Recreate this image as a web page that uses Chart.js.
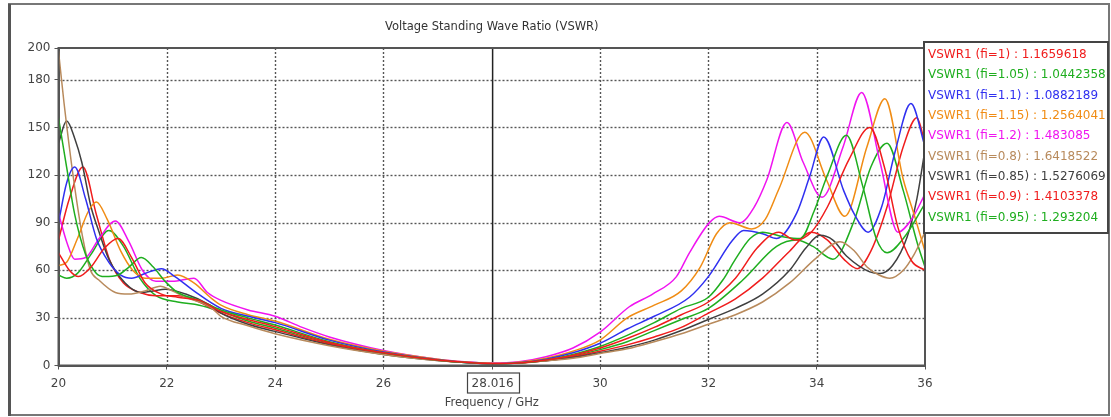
<!DOCTYPE html>
<html>
<head>
<meta charset="utf-8">
<title>VSWR</title>
<script src="https://cdn.jsdelivr.net/npm/chart.js@4.4.0/dist/chart.umd.min.js"></script>
<style>
  html, body { margin: 0; padding: 0; background: #fff; }
  #wrap { width: 1111px; height: 417px; }
</style>
</head>
<body>
<div id="wrap"><canvas id="grafico" width="1111" height="417"></canvas></div>
<script>
const titulo = 'Voltage Standing Wave Ratio (VSWR)';
const xTitulo = 'Frequency / GHz';
const xTicks = [20, 22, 24, 26, 28.016, 30, 32, 34, 36];
const yTicks = [0, 30, 60, 90, 120, 150, 180, 200];
const marcador = 28.016;

const nomes = ['VSWR1 (fi=1)', 'VSWR1 (fi=1.05)', 'VSWR1 (fi=1.1)', 'VSWR1 (fi=1.15)', 'VSWR1 (fi=1.2)',
  'VSWR1 (fi=0.8)', 'VSWR1 (fi=0.85)', 'VSWR1 (fi=0.9)', 'VSWR1 (fi=0.95)'];
const valoresMarcador = ['1.1659618', '1.0442358', '1.0882189', '1.2564041', '1.483085',
  '1.6418522', '1.5276069', '1.4103378', '1.293204'];
const cores = ['#f01c1c', '#1fae1f', '#3030f0', '#f08c14', '#f014f0', '#b88a5c', '#404040', '#f01c1c', '#1fae1f'];

// pares [GHz, VSWR]
const fi100 = [[20, 71], [20.2, 60], [20.37, 56], [20.6, 62], [20.85, 74], [21.1, 80], [21.35, 68], [21.6, 52],
  [21.9, 45], [22.2, 43], [22.6, 41], [23, 34], [23.5, 29], [24, 24.5], [25, 14.5], [26, 8], [27, 3.5],
  [27.5, 2], [28.016, 1.1659618], [28.5, 1.6], [29, 3.5], [29.5, 6.5], [30, 11], [30.5, 17], [31, 24],
  [31.5, 32], [32, 40], [32.5, 55], [32.9, 74], [33.3, 84], [33.6, 79], [33.9, 84], [34.2, 100], [34.6, 130],
  [34.98, 150], [35.25, 125], [35.5, 87], [35.75, 66], [36, 60]];
const fi105 = [[20, 156], [20.15, 125], [20.3, 95], [20.5, 70], [20.7, 58], [20.85, 56], [21.1, 57], [21.3, 62],
  [21.53, 68], [21.75, 62], [21.97, 53], [22.2, 46], [22.6, 41], [23, 35], [23.5, 30], [24, 25.5], [25, 15],
  [26, 8], [27, 3.5], [27.5, 1.9], [28.016, 1.0442358], [28.5, 1.6], [29, 3.5], [29.5, 7], [30, 12], [30.5, 19],
  [31, 27], [31.5, 36], [32, 43], [32.27, 54], [32.5, 67], [32.77, 80], [33, 84], [33.4, 81], [33.7, 80],
  [33.95, 97], [34.2, 120], [34.55, 145], [34.85, 113], [35.1, 80], [35.3, 71], [35.6, 80], [36, 102]];
const fi110 = [[20, 90], [20.15, 115], [20.3, 125], [20.5, 105], [20.7, 80], [20.93, 65], [21.15, 57], [21.35, 55],
  [21.6, 58], [21.9, 61], [22.15, 56], [22.5, 47], [23, 36], [23.5, 31], [24, 27], [25, 16], [26, 8.5], [27, 3.6],
  [27.5, 1.9], [28.016, 1.0882189], [28.5, 1.7], [29, 4], [29.5, 8], [30, 14], [30.5, 23], [31, 31], [31.65, 43],
  [32, 56], [32.45, 79], [32.65, 85], [33, 83], [33.26, 80], [33.63, 96], [33.87, 119], [34.13, 144], [34.5, 110],
  [34.7, 95], [34.95, 84], [35.2, 100], [35.45, 135], [35.74, 165], [36, 138]];
const fi115 = [[20, 63], [20.15, 65], [20.35, 80], [20.55, 97], [20.7, 103], [20.9, 92], [21.15, 72], [21.37, 60],
  [21.6, 55], [21.9, 55], [22.2, 57], [22.5, 52], [22.8, 43], [23, 38], [23.5, 32], [24, 28], [25, 16.5], [26, 9],
  [27, 4], [27.5, 2.2], [28.016, 1.2564041], [28.5, 2], [29, 4.5], [29.5, 9], [30, 16], [30.5, 30], [31, 38],
  [31.5, 47], [31.85, 62], [32.15, 83], [32.4, 90], [32.8, 86], [33.05, 92], [33.3, 111], [33.78, 147],
  [34.18, 117], [34.52, 94], [34.93, 138], [35.26, 168], [35.6, 117], [35.8, 95], [36, 72]];
const fi120 = [[20, 96], [20.15, 78], [20.3, 67], [20.5, 68], [20.75, 80], [21.05, 91], [21.3, 78], [21.55, 60],
  [21.8, 53], [22.1, 53], [22.5, 55], [22.75, 46], [23, 41], [23.5, 35], [24, 31], [24.5, 24], [25, 18], [26, 9.5],
  [27, 4], [27.5, 2.4], [28.016, 1.483085], [28.5, 2.3], [29, 5.5], [29.5, 11], [30, 21], [30.54, 37], [30.97, 45],
  [31.41, 56], [31.65, 71], [32.02, 90], [32.2, 94], [32.58, 90], [32.85, 100], [33.08, 117], [33.45, 153],
  [33.75, 128], [34.1, 106], [34.49, 138], [34.83, 172], [35.17, 128], [35.5, 84], [35.75, 92], [36, 108]];
const fi080 = [[20, 198], [20.1, 166], [20.28, 117], [20.45, 80], [20.59, 60], [20.74, 54], [21.05, 46], [21.3, 45],
  [21.6, 47], [21.88, 50], [22.1, 47], [22.35, 43], [22.8, 37], [23, 31], [23.5, 25], [24, 20], [25, 12.5], [26, 7],
  [27, 3.2], [27.5, 2], [28.016, 1.6418522], [28.5, 1.8], [29, 3], [29.5, 4.5], [30, 7.5], [30.5, 10.5], [31, 15],
  [31.5, 20], [32, 26], [32.5, 32], [33, 40], [33.5, 52], [34, 68], [34.43, 78], [34.7, 72], [34.93, 62],
  [35.15, 57], [35.35, 55], [35.6, 60], [35.8, 70], [36, 84]];
const fi085 = [[20, 140], [20.15, 154], [20.3, 143], [20.43, 128], [20.6, 100], [20.74, 85], [20.93, 67], [21.23, 52],
  [21.53, 46], [21.75, 47], [21.97, 48], [22.35, 45], [22.8, 38], [23, 33], [23.5, 26], [24, 21.5], [25, 13],
  [26, 7], [27, 3.2], [27.5, 2], [28.016, 1.5276069], [28.5, 1.7], [29, 3], [29.5, 5], [30, 8], [30.5, 11.5],
  [31, 16], [31.5, 22], [32, 29], [32.5, 36], [33, 45], [33.5, 60], [33.8, 74], [34.06, 82], [34.3, 79],
  [34.55, 69], [34.98, 59], [35.17, 58], [35.4, 63], [35.67, 81], [35.85, 105], [36, 136]];
const fi090 = [[20, 79], [20.2, 105], [20.45, 125], [20.7, 95], [20.95, 66], [21.2, 52], [21.5, 46], [21.8, 44],
  [22.2, 44], [22.6, 40], [23, 33], [23.5, 27], [24, 22.5], [25, 13.5], [26, 7.5], [27, 3.3], [27.5, 2],
  [28.016, 1.4103378], [28.5, 1.6], [29, 3], [29.5, 5.5], [30, 9], [30.5, 13], [31, 18], [31.5, 24], [32, 33],
  [32.5, 42], [33, 55], [33.5, 72], [33.9, 84], [34.2, 79], [34.5, 67], [34.75, 61], [35, 72], [35.3, 100],
  [35.6, 138], [35.85, 156], [36, 140]];
const fi095 = [[20, 57], [20.15, 55], [20.35, 58], [20.6, 70], [20.93, 85], [21.2, 75], [21.5, 55], [21.8, 44],
  [22.2, 40], [22.6, 38], [23, 34], [23.5, 28], [24, 23.5], [25, 14], [26, 7.5], [27, 3.3], [27.5, 1.9],
  [28.016, 1.293204], [28.5, 1.6], [29, 3.2], [29.5, 6], [30, 10], [30.5, 15], [31, 22], [31.5, 29], [32, 36],
  [32.64, 54], [33.26, 75], [33.63, 79], [33.93, 75], [34.3, 67], [34.7, 92], [35, 125], [35.3, 140], [35.6, 110],
  [35.85, 78], [36, 62]];

const series = [fi100, fi105, fi110, fi115, fi120, fi080, fi085, fi090, fi095];

const fonte = 'DejaVu Sans';

// moldura, grade pontilhada, cursor, titulo e legenda
const moldura = {
  id: 'moldura',
  beforeDraw(chart) {
    const ctx = chart.ctx;
    ctx.save();
    ctx.fillStyle = '#fff';
    ctx.fillRect(0, 0, chart.width, chart.height);
    ctx.strokeStyle = '#777';
    ctx.lineWidth = 2;
    ctx.strokeRect(9, 4, 1100, 411);
    ctx.fillStyle = '#555';
    ctx.fillRect(8, 4, 3, 412);
    ctx.restore();
  },
  beforeDatasetsDraw(chart) {
    const { ctx, chartArea: a, scales: { x, y } } = chart;
    ctx.save();
    ctx.strokeStyle = '#555';
    ctx.lineWidth = 1.4;
    ctx.setLineDash([2, 2]);
    xTicks.filter(v => v > 20 && v < 36 && v !== marcador).forEach(v => {
      const px = Math.round(x.getPixelForValue(v)) + 0.5;
      ctx.beginPath(); ctx.moveTo(px, a.top); ctx.lineTo(px, a.bottom); ctx.stroke();
    });
    yTicks.filter(v => v > 0 && v < 200).forEach(v => {
      const py = Math.round(y.getPixelForValue(v)) + 0.5;
      ctx.beginPath(); ctx.moveTo(a.left, py); ctx.lineTo(a.right, py); ctx.stroke();
    });
    ctx.setLineDash([]);
    ctx.strokeStyle = '#222';
    ctx.lineWidth = 1.5;
    const mx = x.getPixelForValue(marcador);
    ctx.beginPath(); ctx.moveTo(mx, a.top); ctx.lineTo(mx, a.bottom); ctx.stroke();
    ctx.restore();
  },
  afterDraw(chart) {
    const { ctx, chartArea: a, scales: { x } } = chart;
    ctx.save();
    // borda do grafico
    ctx.strokeStyle = '#555';
    ctx.lineWidth = 2;
    ctx.strokeRect(a.left, a.top, a.right - a.left, a.bottom - a.top);

    // titulo
    ctx.fillStyle = '#333';
    ctx.font = '11.5px "' + fonte + '"';
    ctx.textAlign = 'center';
    ctx.textBaseline = 'middle';
    ctx.fillText(titulo, (a.left + a.right) / 2, 27);

    // caixa do valor do cursor
    ctx.font = '12px "' + fonte + '"';
    const mx = x.getPixelForValue(marcador);
    const w = ctx.measureText('28.016').width + 10;
    ctx.strokeStyle = '#444';
    ctx.lineWidth = 1.2;
    ctx.strokeRect(Math.round(mx - w / 2) + 0.5, a.bottom + 7.5, Math.round(w), 20);

    // legenda
    const lx = a.right - 1, ly = 42, lw = 184, lh = 191;
    ctx.fillStyle = '#fff';
    ctx.fillRect(lx, ly, lw, lh);
    ctx.strokeStyle = '#444';
    ctx.lineWidth = 2;
    ctx.strokeRect(lx, ly, lw, lh);
    ctx.textAlign = 'left';
    ctx.textBaseline = 'middle';
    nomes.forEach((n, i) => {
      ctx.fillStyle = cores[i];
      ctx.fillText(n + ' : ' + valoresMarcador[i], lx + 4, 55 + i * 20.3);
    });
    ctx.restore();
  }
};

const ctx = document.getElementById('grafico').getContext('2d');
new Chart(ctx, {
  type: 'line',
  data: {
    datasets: series.map((pts, i) => ({
      label: nomes[i],
      data: pts.map(([f, v]) => ({ x: f, y: v })),
      borderColor: cores[i],
      borderWidth: 1.5,
      pointRadius: 0,
      fill: false,
      cubicInterpolationMode: 'monotone'
    }))
  },
  options: {
    responsive: false,
    animation: false,
    devicePixelRatio: 1,
    layout: { padding: { top: 48, right: 186, left: 0, bottom: 0 } },
    plugins: {
      legend: { display: false },
      tooltip: { enabled: false }
    },
    scales: {
      x: {
        type: 'linear',
        min: 20,
        max: 36,
        afterBuildTicks: s => { s.ticks = xTicks.map(v => ({ value: v })); },
        afterFit: s => { s.height = 51.5; },
        ticks: {
          autoSkip: false,
          maxRotation: 0,
          padding: 7,
          color: '#444',
          font: { family: fonte, size: 12 },
          callback: v => (v === marcador ? '28.016' : String(v))
        },
        grid: { drawOnChartArea: false, tickLength: 4, color: '#555' },
        border: { color: '#555', width: 2 },
        title: {
          display: true,
          text: xTitulo,
          color: '#444',
          font: { family: fonte, size: 11.5 },
          padding: { top: 0, bottom: 7 }
        }
      },
      y: {
        min: 0,
        max: 200,
        afterBuildTicks: s => { s.ticks = yTicks.map(v => ({ value: v })); },
        afterFit: s => { s.width = 58.5; },
        ticks: {
          padding: 4,
          color: '#444',
          font: { family: fonte, size: 12 }
        },
        grid: { drawOnChartArea: false, tickLength: 4, color: '#555' },
        border: { color: '#555', width: 2 }
      }
    }
  },
  plugins: [moldura]
});
</script>
</body>
</html>
